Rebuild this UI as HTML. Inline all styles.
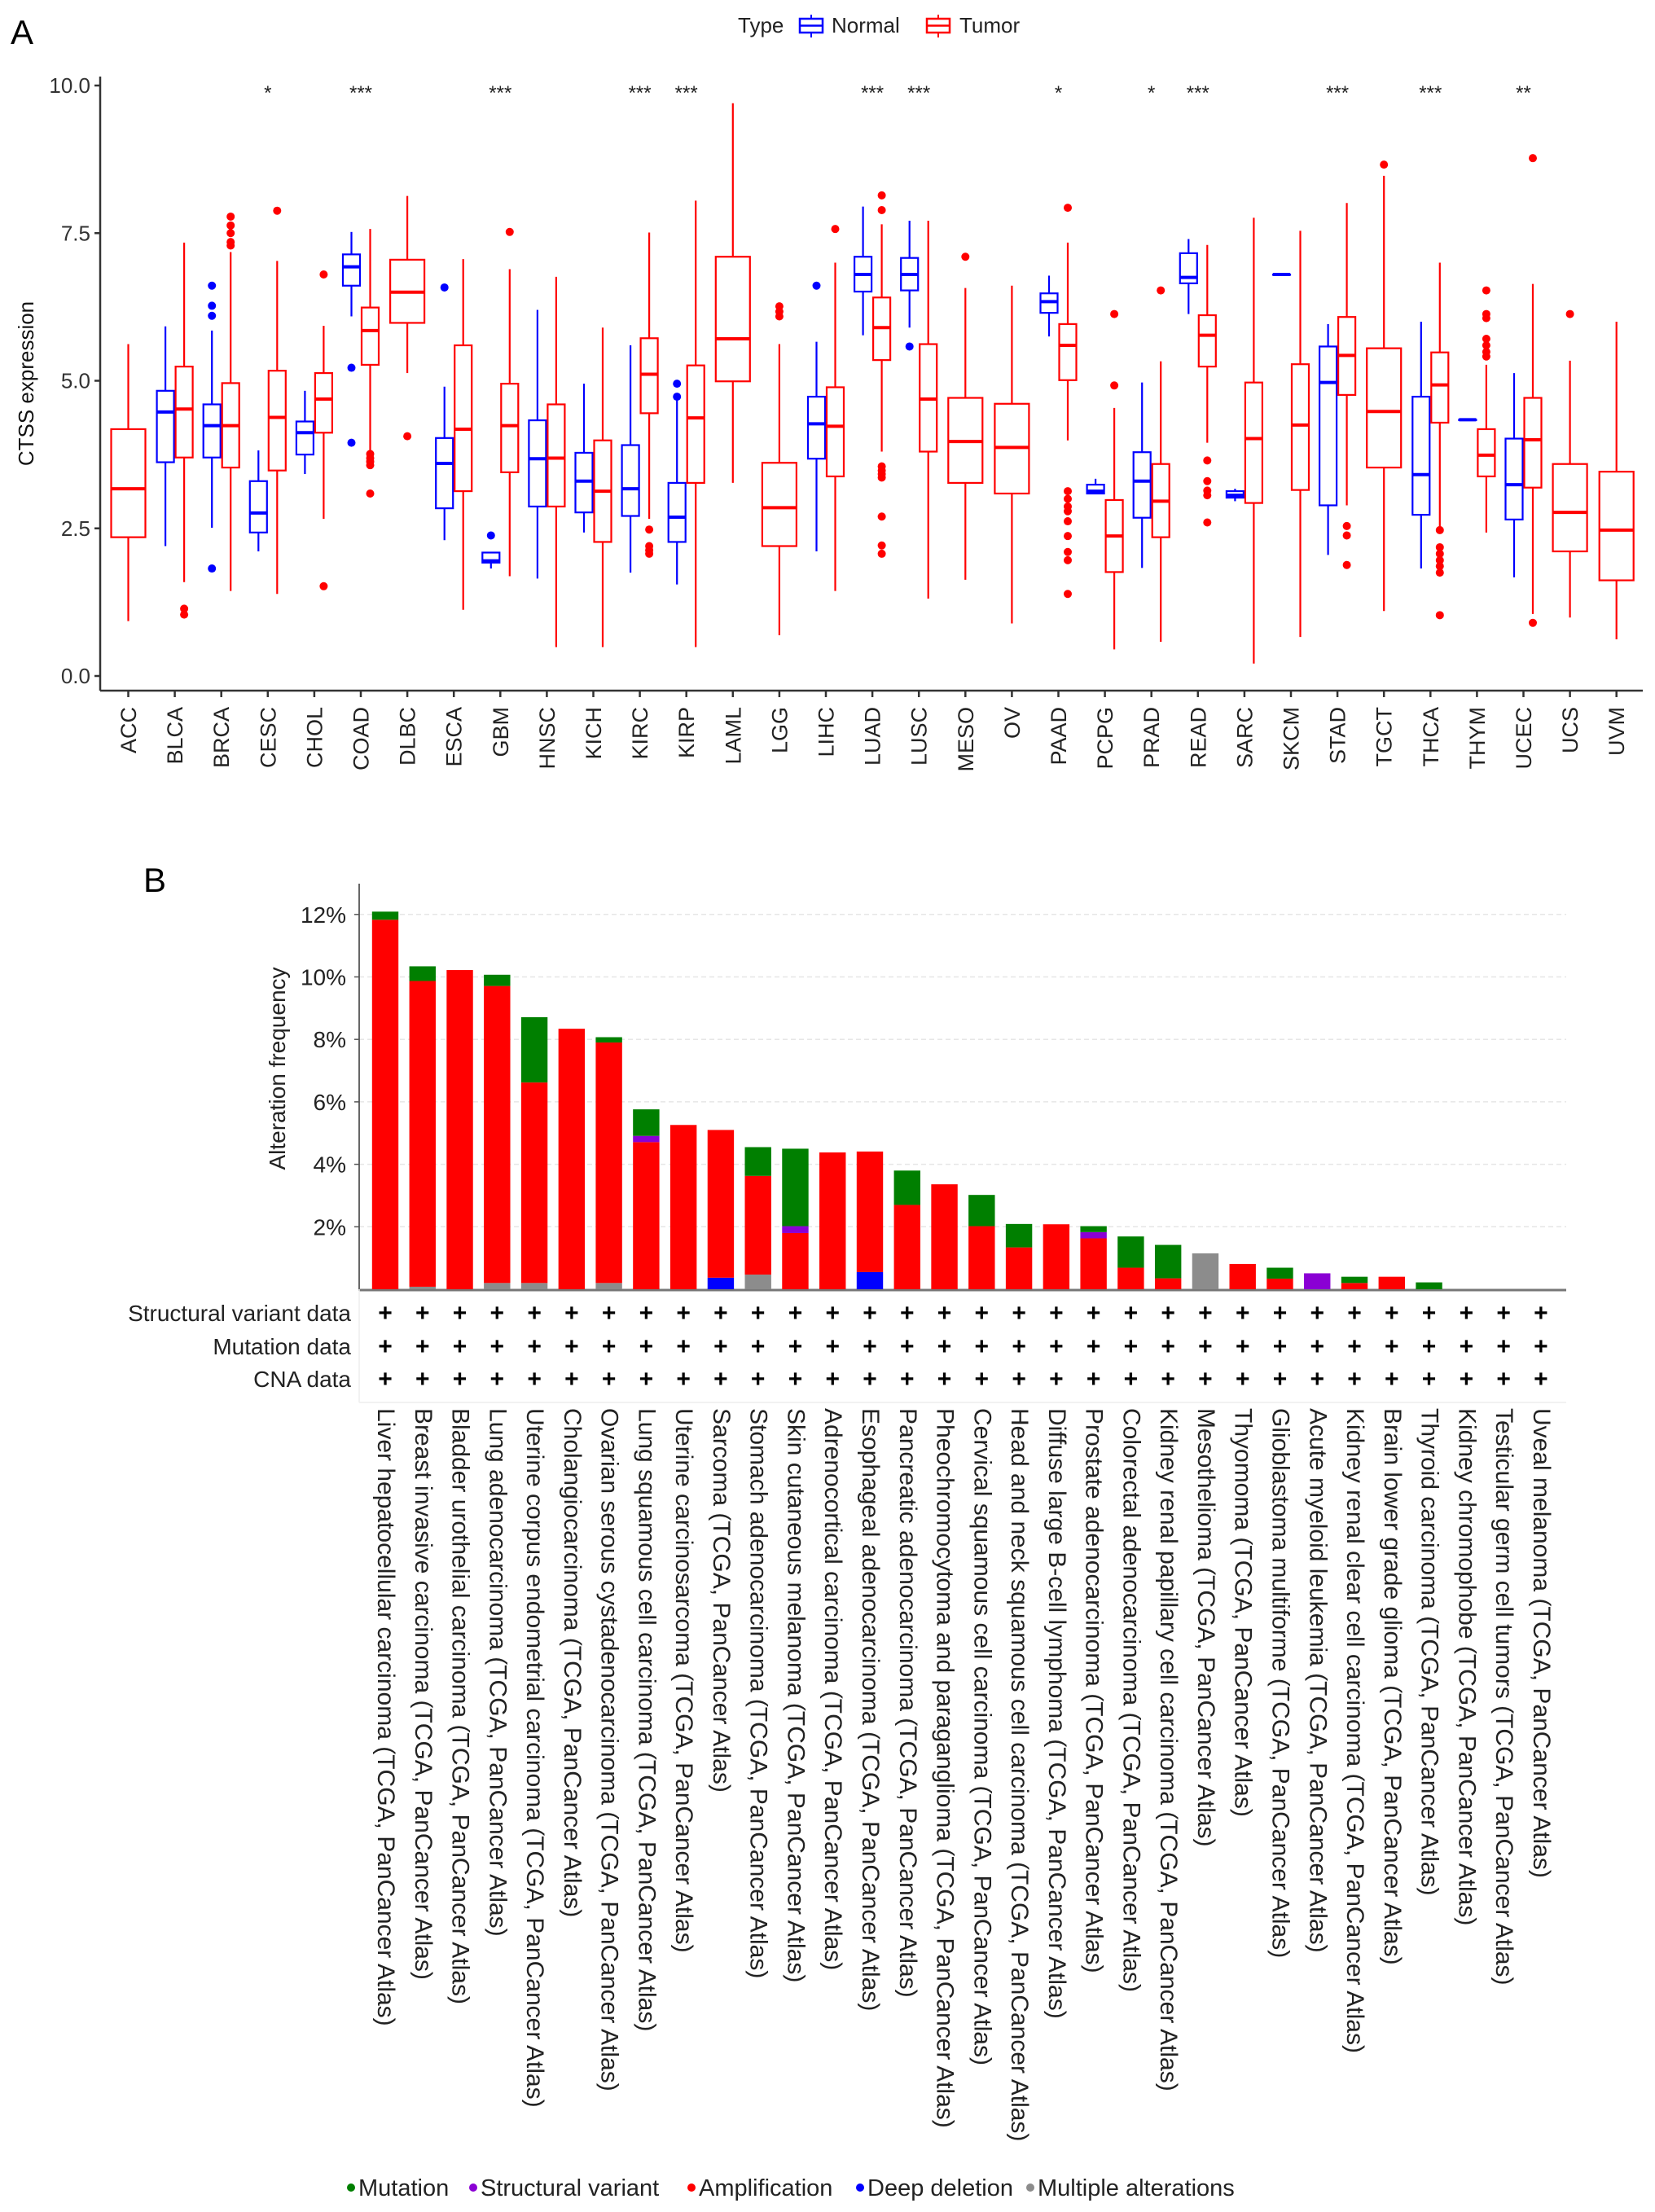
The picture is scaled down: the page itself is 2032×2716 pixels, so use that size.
<!DOCTYPE html>
<html><head><meta charset="utf-8"><title>CTSS expression and alteration frequency</title>
<style>
html,body{margin:0;padding:0;background:#fff;}
svg{display:block;}
text{font-family:"Liberation Sans",sans-serif;}
.nar{font-family:"Liberation Sans Narrow","Liberation Sans",sans-serif;}
</style></head>
<body>
<svg id="fig" width="2032" height="2716" viewBox="0 0 2032 2716" xmlns="http://www.w3.org/2000/svg">
<g id="panelA"></g>
<g id="panelB"></g>
</svg>
<script>
// ---------- Panel A data ----------
const catsA = ["ACC","BLCA","BRCA","CESC","CHOL","COAD","DLBC","ESCA","GBM","HNSC","KICH","KIRC","KIRP","LAML","LGG","LIHC","LUAD","LUSC","MESO","OV","PAAD","PCPG","PRAD","READ","SARC","SKCM","STAD","TGCT","THCA","THYM","UCEC","UCS","UVM"];
// [low whisker, q1, median, q3, high whisker]
const normalStats = [null,[2.2,3.62,4.47,4.83,5.92],[2.51,3.70,4.24,4.6,5.85],[2.11,2.43,2.76,3.30,3.82],[3.42,3.75,4.12,4.31,4.83],[6.09,6.61,6.93,7.14,7.52],null,[2.30,2.84,3.6,4.03,4.9],[1.82,1.92,1.95,2.09,2.09],[1.65,2.87,3.68,4.33,6.2],[2.43,2.77,3.30,3.78,4.95],[1.75,2.71,3.17,3.91,5.6],[1.55,2.27,2.69,3.27,4.69],null,null,[2.11,3.68,4.27,4.73,5.66],[5.77,6.51,6.8,7.1,7.95],[5.9,6.53,6.8,7.08,7.71],null,null,[5.75,6.15,6.34,6.48,6.78],[3.09,3.09,3.13,3.24,3.34],[1.83,2.68,3.30,3.79,4.97],[6.13,6.65,6.75,7.16,7.4],[2.96,3.02,3.06,3.13,3.17],[6.8,6.8,6.8,6.8,6.8],[2.05,2.89,4.97,5.58,5.96],null,[1.82,2.73,3.41,4.73,6.0],[4.34,4.34,4.34,4.34,4.34],[1.67,2.65,3.24,4.02,5.13],null,null];
const tumorStats = [[0.93,2.35,3.17,4.18,5.62],[1.59,3.70,4.52,5.24,7.34],[1.44,3.53,4.24,4.96,7.18],[1.39,3.48,4.38,5.17,7.03],[2.66,4.12,4.69,5.13,5.93],[3.80,5.27,5.85,6.24,7.57],[5.13,5.98,6.5,7.05,8.13],[1.12,3.13,4.18,5.6,7.06],[1.69,3.45,4.24,4.95,6.89],[0.49,2.87,3.69,4.6,6.76],[0.49,2.27,3.13,3.99,5.9],[2.66,4.45,5.11,5.72,7.51],[0.49,3.27,4.37,5.26,8.05],[3.27,4.99,5.71,7.1,9.7],[0.69,2.2,2.85,3.61,5.62],[1.44,3.38,4.23,4.89,7.0],[3.80,5.35,5.9,6.41,7.65],[1.31,3.80,4.69,5.62,7.71],[1.63,3.27,3.97,4.71,6.57],[0.89,3.09,3.87,4.61,6.61],[3.99,5.01,5.6,5.96,7.34],[0.45,1.76,2.37,2.98,4.54],[0.58,2.35,2.96,3.59,5.33],[3.95,5.24,5.77,6.11,7.3],[0.21,2.93,4.02,4.97,7.76],[0.66,3.15,4.25,5.28,7.54],[2.89,4.76,5.43,6.08,8.01],[1.1,3.53,4.48,5.55,8.47],[2.52,4.29,4.93,5.48,7.0],[2.43,3.38,3.74,4.18,5.27],[1.05,3.19,4.0,4.71,6.64],[0.99,2.11,2.77,3.59,5.34],[0.62,1.62,2.47,3.46,6.0]];
const normalOutliers = [[],[],[6.61,6.27,6.1,1.82],[],[],[5.22,3.95],[],[6.58],[2.38],[],[],[],[4.95,4.73],[],[],[6.61],[],[5.58],[],[],[],[],[],[],[],[],[],[],[],[],[],[],[]];
const tumorOutliers = [[],[1.14,1.04],[7.78,7.63,7.5,7.35,7.29],[7.88],[6.8,1.52],[3.76,3.69,3.63,3.57,3.09],[4.06],[],[7.52],[],[],[2.48,2.2,2.13,2.07],[],[],[6.26,6.17,6.09],[7.57],[8.14,7.89,3.55,3.48,3.42,3.36,2.7,2.21,2.07],[],[7.1],[],[7.93,3.13,3.0,2.87,2.79,2.62,2.37,2.1,1.96,1.39],[6.13,4.92],[6.53],[3.65,3.3,3.14,3.06,2.6],[],[],[2.54,2.38,1.88],[8.66],[2.47,2.18,2.07,1.96,1.86,1.75,1.03],[6.53,6.13,6.06,5.71,5.6,5.49,5.41],[8.77,0.9],[6.13],[]];
const sigLabels = ["","","","*","","***","","","***","","","***","***","","","","***","***","","","*","","*","***","","","***","","***","","**","",""];
const yTicksA = [0,2.5,5,7.5,10];

// ---------- Panel B data ----------
const cancersB = ["Liver hepatocellular carcinoma (TCGA, PanCancer Atlas)","Breast invasive carcinoma (TCGA, PanCancer Atlas)","Bladder urothelial carcinoma (TCGA, PanCancer Atlas)","Lung adenocarcinoma (TCGA, PanCancer Atlas)","Uterine corpus endometrial carcinoma (TCGA, PanCancer Atlas)","Cholangiocarcinoma (TCGA, PanCancer Atlas)","Ovarian serous cystadenocarcinoma (TCGA, PanCancer Atlas)","Lung squamous cell carcinoma (TCGA, PanCancer Atlas)","Uterine carcinosarcoma (TCGA, PanCancer Atlas)","Sarcoma (TCGA, PanCancer Atlas)","Stomach adenocarcinoma (TCGA, PanCancer Atlas)","Skin cutaneous melanoma (TCGA, PanCancer Atlas)","Adrenocortical carcinoma (TCGA, PanCancer Atlas)","Esophageal adenocarcinoma (TCGA, PanCancer Atlas)","Pancreatic adenocarcinoma (TCGA, PanCancer Atlas)","Pheochromocytoma and paraganglioma (TCGA, PanCancer Atlas)","Cervical squamous cell carcinoma (TCGA, PanCancer Atlas)","Head and neck squamous cell carcinoma (TCGA, PanCancer Atlas)","Diffuse large B-cell lymphoma (TCGA, PanCancer Atlas)","Prostate adenocarcinoma (TCGA, PanCancer Atlas)","Colorectal adenocarcinoma (TCGA, PanCancer Atlas)","Kidney renal papillary cell carcinoma (TCGA, PanCancer Atlas)","Mesothelioma (TCGA, PanCancer Atlas)","Thyomoma (TCGA, PanCancer Atlas)","Glioblastoma multiforme (TCGA, PanCancer Atlas)","Acute myeloid leukemia (TCGA, PanCancer Atlas)","Kidney renal clear cell carcinoma (TCGA, PanCancer Atlas)","Brain lower grade glioma (TCGA, PanCancer Atlas)","Thyroid carcinoma (TCGA, PanCancer Atlas)","Kidney chromophobe (TCGA, PanCancer Atlas)","Testicular germ cell tumors (TCGA, PanCancer Atlas)","Uveal melanoma (TCGA, PanCancer Atlas)"];
const multipleAlt = [0,0.08,0,0.2,0.2,0,0.2,0,0,0,0.47,0,0,0,0,0,0,0,0,0,0,0,1.15,0,0,0,0,0,0,0,0,0];
const deepDeletion = [0,0,0,0,0,0,0,0,0,0.37,0,0,0,0.55,0,0,0,0,0,0,0,0,0,0,0,0,0,0,0,0,0,0];
const amplification = [11.83,9.79,10.22,9.51,6.42,8.34,7.7,4.71,5.26,4.73,3.16,1.8,4.38,3.86,2.7,3.36,2.02,1.34,2.08,1.63,0.69,0.35,0,0.81,0.34,0,0.2,0.4,0,0,0,0];
const structVariant = [0,0,0,0,0,0,0,0.2,0,0,0,0.22,0,0,0,0,0,0,0,0.2,0,0,0,0,0,0.51,0,0,0,0,0,0];
const mutation = [0.26,0.47,0,0.36,2.09,0,0.17,0.85,0,0,0.92,2.48,0,0,1.1,0,1.0,0.75,0,0.19,1.0,1.07,0,0,0.35,0,0.2,0,0.22,0,0,0];
const yTicksB = [2,4,6,8,10,12];
const rowLabels = ["Structural variant data","Mutation data","CNA data"];
const legendB = ["Mutation","Structural variant","Amplification","Deep deletion","Multiple alterations"];
const legendColors = ["#007f00","#8a00d4","#ff0000","#0000ff","#8c8c8c"];

const NS = "http://www.w3.org/2000/svg";
function mk(tag, attrs, parent, txt){
  const e = document.createElementNS(NS, tag);
  for (const k in attrs) e.setAttribute(k, attrs[k]);
  if (txt !== undefined) e.textContent = txt;
  parent.appendChild(e);
  return e;
}

// ---------- Panel A ----------
const A = document.getElementById('panelA');
const ayTop = 105, ayBot = 830, axL = 123, axR = 2017, axisY = 848;
const x0A = 157.5, stepA = 57.1;
function yA(v){ return ayBot - (v/10)*(ayBot-ayTop); }
function xA(i){ return x0A + i*stepA; }

let t = mk('text',{x:13,y:54,'font-size':42,fill:'#000'},A,'A');



const lg = mk('g',{},A);


t = mk('text',{x:906,y:40,'font-size':26,fill:'#222'},lg,'Type');


[["Normal","#0000ff",982,1021],["Tumor","#ff0000",1138,1178]].forEach(d=>{
  const g = mk('g',{},lg);
  
  
  mk('line',{x1:d[2]+14,y1:18,x2:d[2]+14,y2:46,stroke:d[1],'stroke-width':2},g);
  mk('rect',{x:d[2],y:23,width:28,height:17,fill:'#fff',stroke:d[1],'stroke-width':2.5},g);
  mk('line',{x1:d[2],y1:31.5,x2:d[2]+28,y2:31.5,stroke:d[1],'stroke-width':2.5},g);
  mk('text',{x:d[3],y:40,'font-size':26,fill:'#222'},g,d[0]);
});

let ax = mk('line',{x1:axL,y1:94,x2:axL,y2:axisY,stroke:'#333','stroke-width':2.5},A);


ax = mk('line',{x1:axL,y1:axisY,x2:axR,y2:axisY,stroke:'#333','stroke-width':2.5},A);


yTicksA.forEach(v=>{
  mk('line',{x1:axL-7,y1:yA(v),x2:axL,y2:yA(v),stroke:'#333','stroke-width':2.5},A);
  const tt = mk('text',{x:axL-12,y:yA(v)+9,'font-size':26,'text-anchor':'end',fill:'#333'},A,v.toFixed(1));
  
  
});
t = mk('text',{x:0,y:0,'font-size':26,'text-anchor':'middle',fill:'#111',transform:'translate(41,471) rotate(-90)'},A,'CTSS expression');



function drawBox(g, cx, w, s, col, outs){
  mk('line',{x1:cx,y1:yA(s[4]),x2:cx,y2:yA(s[3]),stroke:col,'stroke-width':2.2},g);
  mk('line',{x1:cx,y1:yA(s[1]),x2:cx,y2:yA(s[0]),stroke:col,'stroke-width':2.2},g);
  const h = Math.max(yA(s[1])-yA(s[3]),0.5);
  mk('rect',{x:cx-w/2,y:yA(s[3]),width:w,height:h,fill:'#fff',stroke:col,'stroke-width':2.2},g);
  mk('line',{x1:cx-w/2,y1:yA(s[2]),x2:cx+w/2,y2:yA(s[2]),stroke:col,'stroke-width':4},g);
  outs.forEach(v=>{
    const c = mk('circle',{cx:cx,cy:yA(v),r:5,fill:col},g);
    
    
  });
}

catsA.forEach((c,i)=>{
  const cx = xA(i);
  const g = mk('g',{},A);
  
  
  mk('line',{x1:cx,y1:axisY,x2:cx,y2:axisY+8,stroke:'#333','stroke-width':2.5},g);
  const paired = normalStats[i] !== null;
  if (paired){
    const gn = mk('g',{},g);
    
    
    drawBox(gn, cx-11.5, 21, normalStats[i], '#0000ff', normalOutliers[i]);
  }
  const gt = mk('g',{},g);
  
  
  drawBox(gt, paired ? cx+11.5 : cx, paired ? 21 : 42, tumorStats[i], '#ff0000', tumorOutliers[i]);
  const lab = mk('text',{x:0,y:0,'font-size':27,'text-anchor':'end',fill:'#222',transform:'translate('+(cx+9.5)+',868) rotate(-90)'},g,c);
  
  
  if (sigLabels[i]){
    const s = mk('text',{x:cx,y:122,'font-size':24,'text-anchor':'middle',fill:'#222'},g,sigLabels[i]);
    
    
  }
});

// ---------- Panel B ----------
const B = document.getElementById('panelB');
const bxL = 441, bxR = 1923, bBase = 1583, perPct = 38.35;
const x0B = 473, stepB = 45.77, barW = 32.4;
function yB(p){ return bBase - p*perPct; }
function xB(i){ return x0B + i*stepB; }

t = mk('text',{x:176,y:1095,'font-size':42,fill:'#000'},B,'B');



yTicksB.forEach(v=>{
  const gl = mk('line',{x1:bxL,y1:yB(v),x2:bxR,y2:yB(v),stroke:'#e6e6e6','stroke-width':1.5,'stroke-dasharray':'6,4'},B);
  
  
  mk('line',{x1:bxL-6,y1:yB(v),x2:bxL,y2:yB(v),stroke:'#555','stroke-width':1.5},B);
  const tt = mk('text',{x:bxL-16,y:yB(v)+10,'font-size':28,'text-anchor':'end',fill:'#222','class':'nar'},B,v+'%');
  
  
});
ax = mk('line',{x1:bxL,y1:1085,x2:bxL,y2:bBase+2,stroke:'#555','stroke-width':1.8},B);


ax = mk('line',{x1:bxL,y1:bBase+1,x2:bxR,y2:bBase+1,stroke:'#777','stroke-width':3},B);


t = mk('text',{x:0,y:0,'font-size':28,'text-anchor':'middle',fill:'#222','class':'nar',transform:'translate(350,1312) rotate(-90)'},B,'Alteration frequency');



mk('line',{x1:bxL,y1:bBase,x2:bxL,y2:1722,stroke:'#eeeeee','stroke-width':1.5},B);
mk('line',{x1:bxL,y1:1722,x2:bxR,y2:1722,stroke:'#eeeeee','stroke-width':1.5},B);

const series = [["multiple",multipleAlt,legendColors[4]],["deep-deletion",deepDeletion,legendColors[3]],["amplification",amplification,legendColors[2]],["structural-variant",structVariant,legendColors[1]],["mutation",mutation,legendColors[0]]];
const rowY = [1612,1653,1693];
cancersB.forEach((c,i)=>{
  const cx = xB(i);
  const g = mk('g',{},B);
  
  
  let acc = 0;
  series.forEach(s=>{
    const v = s[1][i];
    if (v > 0){
      const r = mk('rect',{x:cx-barW/2,y:yB(acc+v),width:barW,height:v*perPct,fill:s[2]},g);
      
      
    }
    acc += v;
  });
  rowY.forEach(y=>{
    const p = mk('text',{x:cx,y:y+10,'font-size':30,'font-weight':'bold','text-anchor':'middle',fill:'#000'},B,'+');
    
    
  });
  const lab = mk('text',{x:0,y:0,'font-size':30,fill:'#222','class':'nar',transform:'translate('+(cx-9)+',1729) rotate(90)'},B,c);
  
  
});
rowLabels.forEach((r,k)=>{
  const tt = mk('text',{x:431,y:rowY[k]+10,'font-size':28,'text-anchor':'end',fill:'#222','class':'nar'},B,r);
  
  
});

const legX = [431,581,849,1056,1265];
legendB.forEach((l,k)=>{
  const g = mk('g',{},B);
  
  
  mk('circle',{cx:legX[k],cy:2686,r:5,fill:legendColors[k]},g);
  mk('text',{x:legX[k]+9,y:2696,'font-size':29,fill:'#222','class':'nar'},g,l);
});
</script>
</body></html>
